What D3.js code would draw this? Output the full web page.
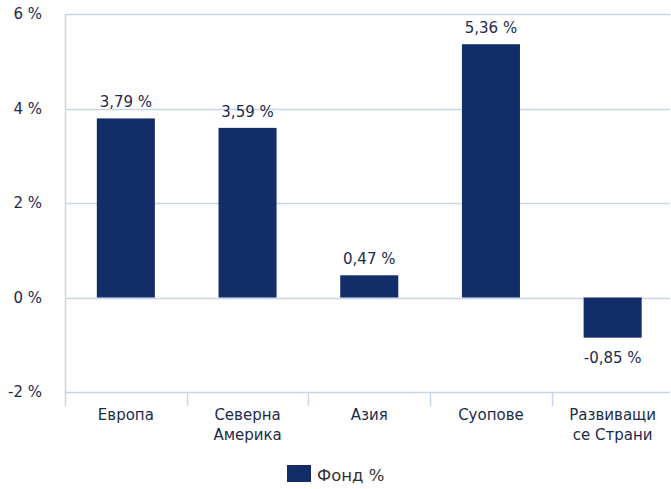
<!DOCTYPE html>
<html>
<head>
<meta charset="utf-8">
<script src="https://cdn.jsdelivr.net/npm/d3@7"></script>
<style>
  body { margin: 0; background: #fff; }
  text { font-family: "DejaVu Sans", Verdana, sans-serif; fill: #1c2b4c; font-size: 15px; }
</style>
</head>
<body>
<div id="chart"></div>
<script>
// data
var categories = [["Европа"], ["Северна", "Америка"], ["Азия"], ["Суопове"], ["Развиващи", "се Страни"]];
var values = [3.79, 3.59, 0.47, 5.36, -0.85];
var yTicks = [-2, 0, 2, 4, 6];
var seriesName = "Фонд %";

var width = 671, height = 489;
// plot edges (note: "top" is a reserved window global, so use plotTop)
var plotLeft = 65, plotRight = 670, plotTop = 14, plotBottom = 392;
var barColor = "#132d68", gridColor = "#c7d5e8";

var svg = d3.select("#chart").append("svg")
  .attr("width", width)
  .attr("height", height);

// the category bands run a little past the right edge of the picture
var x = d3.scaleBand()
  .domain(d3.range(values.length))
  .range([plotLeft, 673.5])
  .paddingInner(0.523)
  .paddingOuter(0.2615);

var y = d3.scaleLinear().domain([-2, 6]).range([plotBottom, plotTop]);

// horizontal gridlines
svg.selectAll("line.grid")
  .data(yTicks)
  .enter().append("line")
  .attr("x1", plotLeft)
  .attr("x2", plotRight)
  .attr("y1", function(d) { return Math.round(y(d)) + 0.5; })
  .attr("y2", function(d) { return Math.round(y(d)) + 0.5; })
  .attr("stroke", gridColor)
  .attr("stroke-width", 1.5);

// y tick labels
svg.selectAll("text.ytick")
  .data(yTicks)
  .enter().append("text")
  .text(function(d) { return d + " %"; })
  .attr("x", 42)
  .attr("y", function(d) { return y(d) + 5; })
  .attr("text-anchor", "end");

// left axis line
svg.append("line")
  .attr("x1", plotLeft + 0.5).attr("x2", plotLeft + 0.5)
  .attr("y1", plotTop).attr("y2", plotBottom + 14)
  .attr("stroke", gridColor).attr("stroke-width", 1.5);

// category separators below the axis
var step = x.step();
svg.selectAll("line.sep")
  .data(d3.range(1, values.length))
  .enter().append("line")
  .attr("x1", function(i) { return Math.round(plotLeft + i * step) + 0.5; })
  .attr("x2", function(i) { return Math.round(plotLeft + i * step) + 0.5; })
  .attr("y1", plotBottom)
  .attr("y2", plotBottom + 14)
  .attr("stroke", gridColor)
  .attr("stroke-width", 1.5);

// bars
svg.selectAll("rect.bar")
  .data(values)
  .enter().append("rect")
  .attr("x", function(d, i) { return x(i); })
  .attr("y", function(d) { return y(Math.max(0, d)); })
  .attr("width", x.bandwidth())
  .attr("height", function(d) { return Math.abs(y(d) - y(0)); })
  .attr("fill", barColor);

// value labels
svg.selectAll("text.val")
  .data(values)
  .enter().append("text")
  .text(function(d) { return d.toFixed(2).replace(".", ",") + " %"; })
  .attr("x", function(d, i) { return x(i) + x.bandwidth() / 2; })
  .attr("y", function(d) { return d >= 0 ? y(d) - 11 : y(d) + 25; })
  .attr("text-anchor", "middle");

// category labels
svg.selectAll("text.cat")
  .data(categories)
  .enter().append("text")
  .attr("x", function(d, i) { return x(i) + x.bandwidth() / 2; })
  .attr("y", 420)
  .attr("text-anchor", "middle")
  .each(function(d) {
    var t = d3.select(this);
    d.forEach(function(line, k) {
      t.append("tspan")
        .attr("x", t.attr("x"))
        .attr("dy", k == 0 ? 0 : 20)
        .text(line);
    });
  });

// legend
svg.append("rect")
  .attr("x", 287).attr("y", 465)
  .attr("width", 24).attr("height", 17)
  .attr("fill", barColor);
svg.append("text")
  .text(seriesName)
  .attr("x", 317).attr("y", 481)
  .style("font-size", "16.5px")
  .style("fill", "#333");
</script>
</body>
</html>
